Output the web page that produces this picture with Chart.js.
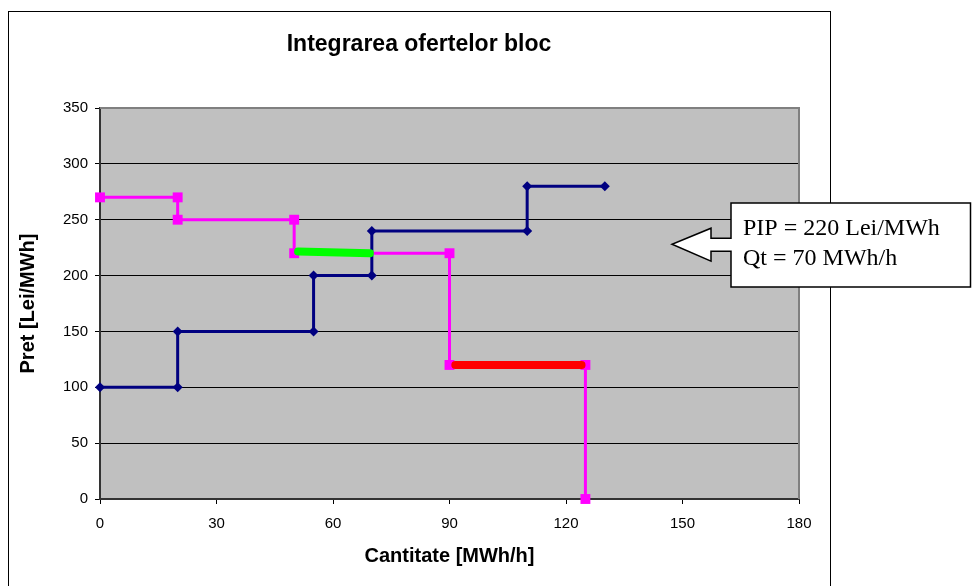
<!DOCTYPE html>
<html lang="ro">
<head>
<meta charset="UTF-8">
<title>Integrarea ofertelor bloc</title>
<script src="https://cdn.jsdelivr.net/npm/chart.js"></script>
<style>
  html, body { margin: 0; padding: 0; background: #fff; }
  canvas { display: block; }
</style>
</head>
<body>
<canvas id="chartCanvas" width="972" height="586"></canvas>
<script>
// oferte de cumparare (roz)
const demandQty = [0, 20, 20, 50, 50, 90, 90, 125, 125]
const demandPrice = [270, 270, 250, 250, 220, 220, 120, 120, 0]
// oferte de vanzare (albastru)
const supplyQty = [0, 20, 20, 55, 55, 70, 70, 110, 110, 130]
const supplyPrice = [100, 100, 150, 150, 200, 200, 240, 240, 280, 280]
// segment acceptat (verde) si neacceptat (rosu)
const pipQty = [51, 69.5]
const pipPrice = [221.5, 220]
const refusedQty = [91.5, 124]
const refusedPrice = [120, 120]

const xTicks = [0, 30, 60, 90, 120, 150, 180]
const yTicks = [0, 50, 100, 150, 200, 250, 300, 350]

const chartTitle = "Integrarea ofertelor bloc"
const xTitle = "Cantitate [MWh/h]"
const yTitle = "Pret [Lei/MWh]"
const calloutLines = ["PIP = 220 Lei/MWh", "Qt = 70 MWh/h"]

function toPoints(xs, ys) {
  return xs.map((x, i) => ({x: x, y: ys[i]}))
}

const frame = {
  id: "frame",
  beforeDraw(chart) {
    const ctx = chart.ctx
    const a = chart.chartArea
    ctx.save()
    ctx.fillStyle = "#fff"
    ctx.fillRect(0, 0, chart.width, chart.height)
    // chenarul graficului
    ctx.strokeStyle = "#000"
    ctx.lineWidth = 1
    ctx.strokeRect(8.5, 11.5, 822, 600)
    ctx.fillStyle = "#C0C0C0"
    ctx.fillRect(a.left, a.top, a.right - a.left, a.bottom - a.top)
    ctx.font = "bold 23px 'Liberation Sans', Arial, sans-serif"
    ctx.fillStyle = "#000"
    ctx.textAlign = "center"
    ctx.textBaseline = "middle"
    ctx.fillText(chartTitle, 419, 45)
    ctx.restore()
  },
  beforeDatasetsDraw(chart) {
    const ctx = chart.ctx
    const a = chart.chartArea
    ctx.save()
    ctx.strokeStyle = "#808080"
    ctx.lineWidth = 2
    ctx.beginPath()
    ctx.moveTo(a.left, a.top)
    ctx.lineTo(a.right, a.top)
    ctx.lineTo(a.right, a.bottom)
    ctx.stroke()
    ctx.restore()
  },
  afterDraw(chart) {
    const ctx = chart.ctx
    const y = chart.scales.y
    const tipY = y.getPixelForValue(220) - 9
    ctx.save()
    ctx.beginPath()
    ctx.moveTo(731, 203)
    ctx.lineTo(970.5, 203)
    ctx.lineTo(970.5, 287)
    ctx.lineTo(731, 287)
    ctx.lineTo(731, tipY + 7)
    ctx.lineTo(711, tipY + 7)
    ctx.lineTo(711, tipY + 17)
    ctx.lineTo(672, tipY)
    ctx.lineTo(711, tipY - 16)
    ctx.lineTo(711, tipY - 6)
    ctx.lineTo(731, tipY - 6)
    ctx.closePath()
    ctx.fillStyle = "#fff"
    ctx.fill()
    ctx.strokeStyle = "#000"
    ctx.lineWidth = 1.5
    ctx.stroke()
    ctx.fillStyle = "#000"
    ctx.font = "24px 'Liberation Serif', 'Times New Roman', serif"
    ctx.textAlign = "left"
    ctx.textBaseline = "alphabetic"
    ctx.fillText(calloutLines[0], 743, 235)
    ctx.fillText(calloutLines[1], 743, 265)
    ctx.restore()
  }
}

Chart.defaults.color = "#000"
Chart.defaults.font.family = "'Liberation Sans', Arial, sans-serif"

const ctx = document.getElementById("chartCanvas").getContext("2d")
new Chart(ctx, {
  type: "scatter",
  data: {
    datasets: [
      {
        label: "PIP",
        data: toPoints(pipQty, pipPrice),
        showLine: true,
        borderColor: "#00FF00",
        borderWidth: 8,
        borderCapStyle: "round",
        pointRadius: 0,
        clip: false,
        order: 0
      },
      {
        label: "Neacceptat",
        data: toPoints(refusedQty, refusedPrice),
        showLine: true,
        borderColor: "#FF0000",
        borderWidth: 8,
        borderCapStyle: "round",
        pointRadius: 0,
        clip: false,
        order: 1
      },
      {
        label: "Cumparare",
        data: toPoints(demandQty, demandPrice),
        showLine: true,
        borderColor: "#FF00FF",
        borderWidth: 3,
        pointStyle: "rect",
        pointRadius: 7,
        pointBackgroundColor: "#FF00FF",
        pointBorderColor: "#FF00FF",
        pointBorderWidth: 0,
        clip: false,
        order: 2
      },
      {
        label: "Vanzare",
        data: toPoints(supplyQty, supplyPrice),
        showLine: true,
        borderColor: "#000080",
        borderWidth: 3,
        pointStyle: "rectRot",
        pointRadius: 5,
        pointBackgroundColor: "#000080",
        pointBorderColor: "#000080",
        pointBorderWidth: 0,
        clip: false,
        order: 3
      }
    ]
  },
  options: {
    responsive: false,
    animation: false,
    devicePixelRatio: 1,
    layout: {
      padding: {left: 8, right: 173, top: 108, bottom: 0}
    },
    plugins: {
      legend: {display: false},
      tooltip: {enabled: false}
    },
    scales: {
      x: {
        type: "linear",
        min: 0,
        max: 180,
        afterBuildTicks: s => { s.ticks = xTicks.map(v => ({value: v})) },
        afterFit: s => { s.height = 87 },
        ticks: {font: {size: 15}, padding: 11, maxRotation: 0},
        grid: {drawOnChartArea: false, drawTicks: true, tickLength: 5, color: "#000", tickColor: "#000"},
        border: {color: "#333", width: 2},
        title: {
          display: true,
          text: xTitle,
          font: {size: 20, weight: "bold"},
          padding: {top: 0, bottom: 18}
        }
      },
      y: {
        type: "linear",
        min: 0,
        max: 350,
        afterBuildTicks: s => { s.ticks = yTicks.map(v => ({value: v})) },
        afterFit: s => { s.width = 92 },
        ticks: {font: {size: 15}, padding: 7},
        grid: {
          tickLength: 5,
          color: c => (c.tick && c.tick.value === 350) ? "rgba(0,0,0,0)" : "#000",
          tickColor: "#000",
          lineWidth: 1
        },
        border: {color: "#333", width: 2},
        title: {
          display: true,
          text: yTitle,
          font: {size: 20, weight: "bold"},
          padding: {top: 8, bottom: 0}
        }
      }
    }
  },
  plugins: [frame]
})
</script>
</body>
</html>
